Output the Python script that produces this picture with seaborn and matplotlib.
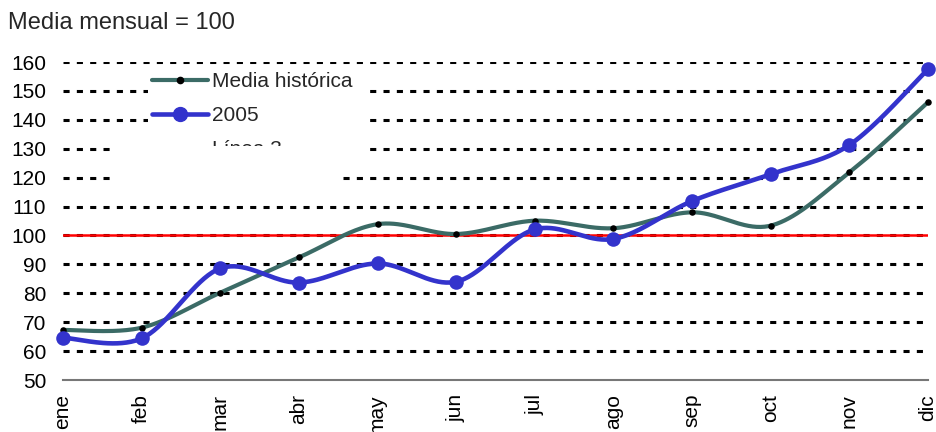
import numpy as np
import matplotlib
matplotlib.use("Agg")
import matplotlib.pyplot as plt
from matplotlib.lines import Line2D
from matplotlib.patches import Rectangle
import seaborn as sns

months = ["ene", "feb", "mar", "abr", "may", "jun", "jul", "ago", "sep", "oct", "nov", "dic"]
media_historica = [67.3, 68.1, 80.2, 92.4, 103.9, 100.5, 105.1, 102.5, 108.0, 103.4, 121.8, 146.1]
serie_2005 = [64.6, 64.4, 88.6, 83.7, 90.3, 84.0, 102.1, 98.8, 111.9, 121.2, 131.3, 157.5]
yticks = [50, 60, 70, 80, 90, 100, 110, 120, 130, 140, 150, 160]
referencia = 100

sns.set_theme(style="white")
plt.rcParams["font.family"] = ["Liberation Sans", "DejaVu Sans"]
plt.rcParams["lines.scale_dashes"] = False

W, H = 937, 432
fig = plt.figure(figsize=(W / 100, H / 100), dpi=100)
ax = fig.add_axes([63 / W, 1 - 380 / H, (928 - 63) / W, (380 - 62) / H])


def smooth(xs, ys, n=40):
    """Excel-style smoothed curve (Catmull-Rom / Bezier) through the data points."""
    p = np.column_stack([xs, ys]).astype(float)
    ext = np.vstack([p[0], p, p[-1]])
    out = []
    t = np.linspace(0, 1, n)[:, None]
    for i in range(len(p) - 1):
        P0, P1, P2, P3 = ext[i], ext[i + 1], ext[i + 2], ext[i + 3]
        c1 = P1 + (P2 - P0) / 6
        c2 = P2 - (P3 - P1) / 6
        seg = ((1 - t) ** 3) * P1 + 3 * ((1 - t) ** 2) * t * c1 + 3 * (1 - t) * t ** 2 * c2 + t ** 3 * P2
        out.append(seg if i == 0 else seg[1:])
    s = np.vstack(out)
    return s[:, 0], s[:, 1]


x = np.arange(len(months))

# grid lines
for yv in yticks[1:]:
    ax.axhline(yv, color="black", lw=2.2, ls=(0, (4.4, 5.2)), zorder=1)

# reference line
ax.axhline(referencia, color="#FF0000", lw=1.8, zorder=2)

colors = {"hist": "#3B6B66", "2005": "#3333CC"}
hx, hy = smooth(x, media_historica)
bx, by = smooth(x, serie_2005)
sns.lineplot(x=hx, y=hy, sort=False, estimator=None, color=colors["hist"], lw=3.0, ax=ax, zorder=3, clip_on=False)
sns.lineplot(x=bx, y=by, sort=False, estimator=None, color=colors["2005"], lw=3.3, ax=ax, zorder=4, clip_on=False)
sns.scatterplot(x=x, y=media_historica, color="black", s=22, linewidth=0, ax=ax, zorder=5, clip_on=False)
sns.scatterplot(x=x, y=serie_2005, color=colors["2005"], s=110, linewidth=0, ax=ax, zorder=6, clip_on=False)

ax.set_xlim(0, len(months) - 1)
ax.set_ylim(50, 160)
ax.set_yticks(yticks)
ax.set_yticklabels([str(v) for v in yticks], fontsize=15)
ax.set_xticks(x)
ax.set_xticklabels(months, rotation=90, fontsize=15, va="top")
ax.tick_params(axis="y", length=0, pad=12, colors="black")
ax.tick_params(axis="x", direction="inout", length=14, width=1.2, color="#777777", pad=3, labelcolor="black")
for side in ["left", "right", "top"]:
    ax.spines[side].set_visible(False)
ax.spines["bottom"].set_color("#777777")
ax.spines["bottom"].set_linewidth(1.5)
ax.set_xlabel("")
ax.set_ylabel("")
ax.grid(False)

fig.text(8 / W, 1 - 23 / H, "Media mensual = 100", fontsize=17, va="center", ha="left")


def fig_rect(x0, y0, x1, y1, z):
    r = Rectangle((x0 / W, 1 - y1 / H), (x1 - x0) / W, (y1 - y0) / H, transform=fig.transFigure,
                  facecolor="white", edgecolor="none", zorder=z)
    fig.patches.append(r)


fig_rect(148, 68, 368, 152, 1)
handles = [
    Line2D([], [], color=colors["hist"], lw=3.0, marker="o", markersize=4.5, markerfacecolor="black",
           markeredgecolor="black"),
    Line2D([], [], color=colors["2005"], lw=3.3, marker="o", markersize=10, markerfacecolor=colors["2005"],
           markeredgecolor=colors["2005"]),
    Line2D([], [], color="none"),
]
leg = fig.legend(handles, ["Media histórica", "2005", "Línea 3"], loc="upper left",
                 bbox_to_anchor=(152 / W, 1 - 72 / H), frameon=False, fontsize=15,
                 handlelength=2.7, handletextpad=0.2, labelspacing=0.72, borderpad=0, borderaxespad=0)
leg.set_zorder(2)
fig_rect(113, 146, 338, 192, 3)

fig.savefig("out.png", dpi=100)
